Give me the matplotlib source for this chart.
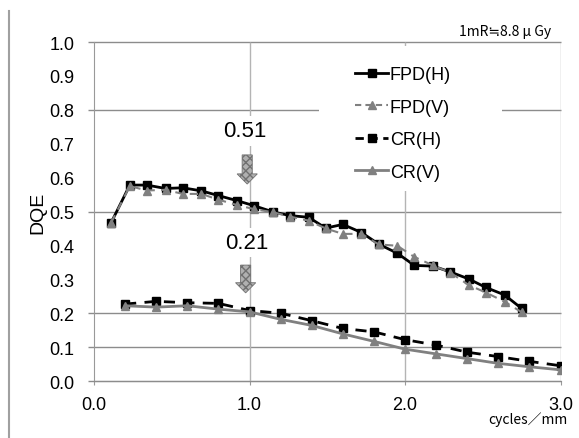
import matplotlib
matplotlib.use('Agg')
import matplotlib.pyplot as plt
from matplotlib.patches import FancyArrow, Rectangle
from matplotlib.lines import Line2D

plt.rcParams['font.family'] = ['Liberation Sans', 'Noto Sans CJK JP', 'DejaVu Sans']

# spatial frequency (cycles/mm)
fpd_freq = [0.11, 0.23, 0.34, 0.46, 0.57, 0.69, 0.80, 0.92, 1.03, 1.15, 1.26, 1.38,
            1.49, 1.60, 1.72, 1.83, 1.95, 2.06, 2.18, 2.29, 2.41, 2.52, 2.64, 2.75]
cr_freq = [0.2, 0.4, 0.6, 0.8, 1.0, 1.2, 1.4, 1.6, 1.8, 2.0, 2.2, 2.4, 2.6, 2.8, 3.0]

fpd_h = [0.467, 0.578, 0.578, 0.568, 0.570, 0.561, 0.547, 0.532, 0.517, 0.499, 0.488, 0.483,
         0.451, 0.462, 0.438, 0.404, 0.377, 0.341, 0.339, 0.322, 0.301, 0.276, 0.254, 0.214]
fpd_v = [0.467, 0.575, 0.562, 0.564, 0.552, 0.552, 0.535, 0.519, 0.507, 0.498, 0.485, 0.473,
         0.450, 0.434, 0.434, 0.403, 0.399, 0.366, 0.341, 0.320, 0.283, 0.261, 0.234, 0.203]
cr_h = [0.227, 0.235, 0.231, 0.229, 0.208, 0.200, 0.178, 0.155, 0.145, 0.122,
        0.106, 0.085, 0.072, 0.058, 0.045]
cr_v = [0.222, 0.218, 0.222, 0.212, 0.204, 0.182, 0.164, 0.139, 0.117, 0.094,
        0.080, 0.066, 0.052, 0.042, 0.033]

labels = ['FPD(H)', 'FPD(V)', 'CR(H)', 'CR(V)']
marked = [('0.51', 0.97, 0.738), ('0.21', 0.98, 0.409)]

y_ticks = [0.0, 0.1, 0.2, 0.3, 0.4, 0.5, 0.6, 0.7, 0.8, 0.9, 1.0]
h_grid = [0.1, 0.2, 0.5, 0.8, 1.0]
v_grid = [1.0, 2.0, 3.0]

BLACK = '#000000'
GREY = '#808080'

fig = plt.figure(figsize=(5.79, 4.39), dpi=100)
ax = fig.add_axes([0.1624, 0.1298, 0.8057, 0.7722])
ax.set_xlim(0, 3.0)
ax.set_ylim(0, 1.0)

# grid
ax.hlines(h_grid + [0.0], -0.04, 3.0, colors='#8c8c8c', lw=1, clip_on=False, zorder=1)
ax.vlines(v_grid, 0, 1.0, colors='#b4b4b4', lw=1, zorder=1)

for side in ['top', 'right']:
    ax.spines[side].set_visible(False)
ax.spines['left'].set_color('#999999')
ax.spines['bottom'].set_color('#8c8c8c')

ax.set_yticks(y_ticks)
ax.set_yticklabels([f'{v:.1f}' for v in y_ticks])
ax.set_xticks([0, 1, 2, 3])
ax.set_xticklabels(['0.0', '1.0', '2.0', '3.0'])
ax.tick_params(axis='y', length=0, pad=14, labelsize=13)
ax.tick_params(axis='x', length=3, color='#999999', pad=8, labelsize=13)
ax.set_ylabel('DQE', fontsize=14, labelpad=2)

# white patch behind the legend
ax.add_patch(Rectangle((1.447, 0.560), 1.177, 0.428, facecolor='white',
                       edgecolor='none', zorder=2))

ax.plot(fpd_freq, fpd_h, color=BLACK, lw=2, marker='s', ms=6, zorder=3)
ax.plot(fpd_freq, fpd_v, color=GREY, lw=1.5, ls=(0, (4, 3)), marker='^', ms=6, zorder=4)
ax.plot(cr_freq, cr_h, color=BLACK, lw=2, ls=(0, (4, 3)), marker='s', ms=6, zorder=3)
ax.plot(cr_freq, cr_v, color=GREY, lw=2, marker='^', ms=6, zorder=4)

handles = [
    Line2D([], [], color=BLACK, lw=2, marker='s', ms=6),
    Line2D([], [], color=GREY, lw=1.5, ls=(0, (3, 2)), marker='^', ms=6),
    Line2D([], [], color=BLACK, lw=2, ls=(0, (3, 2)), marker='s', ms=6),
    Line2D([], [], color=GREY, lw=2, marker='^', ms=6),
]
leg = ax.legend(handles, labels, loc='upper left', bbox_to_anchor=(0.545, 0.95),
                frameon=False, fontsize=13, handlelength=1.8, handletextpad=0.1,
                labelspacing=0.86, markerscale=1.0, borderaxespad=0)
leg.set_zorder(5)

# value labels with arrows near 1.0 cycles/mm
for text, x, y in marked:
    ax.text(x, y, text, ha='center', va='center', fontsize=16, zorder=5,
            bbox=dict(facecolor='white', edgecolor='none', pad=3))
arrows = [(0.985, 0.667, 0.086), (0.975, 0.342, 0.082)]
for x, top, length in arrows:
    ax.add_patch(FancyArrow(x, top, 0, -length, width=0.065, head_width=0.13,
                            head_length=0.03, length_includes_head=True,
                            facecolor='#b0b0b0', edgecolor='#707070', hatch='xxxx',
                            lw=0.6, zorder=6))

fig.text(0.952, 0.926, '1mR≒8.8 μ Gy', ha='right', va='center', fontsize=10,
         family=['Noto Sans CJK JP', 'DejaVu Sans'])
fig.text(0.981, 0.044, 'cycles／mm', ha='right', va='center', fontsize=10,
         family=['Noto Sans CJK JP', 'DejaVu Sans'])

# frame line on the left edge
fig.add_artist(Line2D([0.016, 0.016], [0.0, 0.972], color='#a0a0a0', lw=1.5))

fig.savefig('out.png', dpi=100)
